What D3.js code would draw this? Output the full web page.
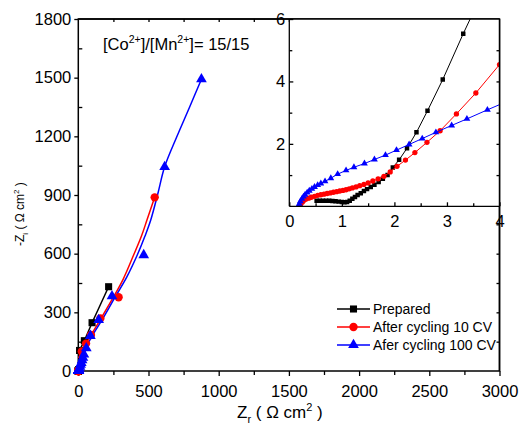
<!DOCTYPE html>
<html><head><meta charset="utf-8">
<script src="https://cdn.jsdelivr.net/npm/d3@7"></script>
<style>
body{margin:0;background:#fff;}
text{font-family:"Liberation Sans",Arial,sans-serif;fill:#000;}
</style>
</head><body>
<svg id="c" width="520" height="435"></svg>
<script>
// ---------- data ----------
const seriesNames = ["Prepared", "After cycling 10 CV", "Afer cycling 100 CV"];
const seriesColors = ["#000000", "#ff0000", "#0000ff"];

const preparedData = [[0.52,0.18],[0.58,0.18],[0.64,0.18],[0.70,0.18],[0.76,0.18],[0.82,0.17],[0.88,0.16],[0.94,0.15],[1.00,0.14],[1.05,0.13],[1.10,0.14],[1.15,0.18],[1.20,0.24],[1.25,0.30],[1.30,0.36],[1.36,0.42],[1.42,0.49],[1.48,0.55],[1.55,0.62],[1.62,0.69],[1.70,0.78],[1.78,0.88],[1.87,1.00],[1.97,1.24],[2.09,1.49],[2.24,1.86],[2.42,2.37],[2.63,3.06],[2.92,4.06],[3.31,5.53],[3.75,7.1],[9,105],[43,155],[98,247],[216,431]];

const cycled10Data = [[0.20,0.02],[0.22,0.08],[0.25,0.14],[0.28,0.19],[0.32,0.23],[0.37,0.26],[0.42,0.29],[0.48,0.32],[0.54,0.35],[0.60,0.37],[0.66,0.39],[0.72,0.41],[0.78,0.43],[0.84,0.45],[0.90,0.47],[0.96,0.49],[1.02,0.51],[1.08,0.53],[1.14,0.56],[1.20,0.59],[1.27,0.62],[1.34,0.66],[1.42,0.70],[1.50,0.75],[1.59,0.81],[1.69,0.88],[1.80,0.96],[1.92,1.10],[2.05,1.28],[2.21,1.48],[2.39,1.72],[2.62,2.05],[2.87,2.42],[3.18,2.96],[3.55,3.63],[4.0,4.54],[4.5,5.6],[25,100],[55,140],[90,184],[157,269],[287,377],[544,888]];

const cycled100Data = [[0.17,0.0],[0.19,0.08],[0.21,0.16],[0.24,0.24],[0.27,0.31],[0.30,0.37],[0.34,0.44],[0.38,0.50],[0.43,0.56],[0.48,0.62],[0.54,0.68],[0.60,0.73],[0.68,0.80],[0.79,0.90],[0.92,1.03],[1.08,1.15],[1.23,1.25],[1.43,1.37],[1.62,1.50],[1.83,1.64],[2.04,1.80],[2.28,1.98],[2.53,2.17],[2.79,2.37],[3.09,2.59],[3.38,2.80],[3.77,3.09],[4.2,3.4],[8,12],[12,22],[16,32],[21,42],[27,55],[33,68],[40,85],[57,117],[86,180],[145,261],[240,383],[466,593],[615,1044],[877,1492]];

// smooth fitted curves drawn in the main panel
const cycled10Fit = [[2,66],[30,110],[86,178],[157,263],[252,380],[320,470],[394,593],[450,690],[489,772],[544,888]];
const cycled100Fit = [[3,0],[15,40],[33,90],[98,178],[169,261],[264,380],[345,480],[420,593],[475,690],[516,772],[566,905],[615,1044],[700,1195],[790,1345],[877,1492]];

const mainXTicks = [0,500,1000,1500,2000,2500,3000];
const mainXMinor = [250,750,1250,1750,2250,2750];
const mainYTicks = [0,300,600,900,1200,1500,1800];
const mainYMinor = [150,450,750,1050,1350,1650];
const insetXTicks = [0,1,2,3,4];
const insetXMinor = [0.5,1.5,2.5,3.5];
const insetYTicks = [2,4,6];
const insetYMinor = [1,3,5];

// ---------- layout ----------
const svg = d3.select("#c");
const x = d3.scaleLinear().domain([0,3000]).range([78.3,499.5]);
const y = d3.scaleLinear().domain([0,1800]).range([371,19]);
const ix = d3.scaleLinear().domain([0,4]).range([289.3,499.5]);
const iy = d3.scaleLinear().domain([0,6]).range([206.3,19]);

const syms = [d3.symbolSquare, d3.symbolCircle, d3.symbolTriangle];
const allData = [preparedData, cycled10Data, cycled100Data];

function styleAxis(g, fs){
  g.select(".domain").remove();
  g.selectAll(".tick line").attr("stroke","#000").attr("stroke-width",1.3);
  g.selectAll(".tick text").attr("font-size",fs).attr("font-family","Liberation Sans, Arial, sans-serif").attr("fill","#000");
}

// ---------- main axes ----------
const gl = svg.append("g").attr("transform",`translate(${x(0)},0)`)
  .call(d3.axisLeft(y).tickValues(mainYTicks).tickSize(4).tickPadding(3).tickFormat(d3.format("d")));
styleAxis(gl, 16.5);
const glm = svg.append("g").attr("transform",`translate(${x(0)},0)`)
  .call(d3.axisLeft(y).tickValues(mainYMinor).tickSize(-4).tickFormat(""));
styleAxis(glm, 1);

const gb = svg.append("g").attr("transform",`translate(0,${y(0)})`)
  .call(d3.axisBottom(x).tickValues(mainXTicks).tickSize(5).tickPadding(9).tickFormat(d3.format("d")));
styleAxis(gb, 16.5);
const gbm = svg.append("g").attr("transform",`translate(0,${y(0)})`)
  .call(d3.axisBottom(x).tickValues(mainXMinor).tickSize(4).tickFormat(""));
styleAxis(gbm, 1);

const gr = svg.append("g").attr("transform",`translate(${x(3000)},0)`)
  .call(d3.axisRight(y).tickValues(mainYMinor.concat(mainYTicks.slice(1,-1))).tickSize(-3).tickFormat(""));
styleAxis(gr, 1);
const gt = svg.append("g").attr("transform",`translate(0,${y(1800)})`)
  .call(d3.axisTop(x).tickValues(mainXMinor.concat(mainXTicks.slice(1,-1))).tickSize(-3).tickFormat(""));
styleAxis(gt, 1);

// main frame
svg.append("rect").attr("x",x(0)).attr("y",y(1800)).attr("width",x(3000)-x(0)).attr("height",y(0)-y(1800))
  .attr("fill","none").attr("stroke","#000").attr("stroke-width",1.5);

// ---------- main series ----------
const lineMain = d3.line().x(d=>x(d[0])).y(d=>y(d[1]));
svg.append("path").datum(preparedData).attr("d",lineMain).attr("fill","none").attr("stroke",seriesColors[0]).attr("stroke-width",1.5);
svg.append("path").datum(cycled10Fit).attr("d",lineMain.curve(d3.curveCatmullRom)).attr("fill","none").attr("stroke",seriesColors[1]).attr("stroke-width",1.5);
svg.append("path").datum(cycled100Fit).attr("d",lineMain.curve(d3.curveCatmullRom)).attr("fill","none").attr("stroke",seriesColors[2]).attr("stroke-width",1.5);

const mainSizes = [50, 55, 50];
allData.forEach((data,i)=>{
  svg.append("g").selectAll("path").data(data).join("path")
    .attr("transform",d=>`translate(${x(d[0])},${y(d[1])})`)
    .attr("d",d3.symbol().type(syms[i]).size(mainSizes[i]))
    .attr("fill",seriesColors[i]);
});

// ---------- inset ----------
svg.append("rect").attr("x",ix(0)).attr("y",iy(6)).attr("width",ix(4)-ix(0)).attr("height",iy(0)-iy(6)).attr("fill","#fff");
svg.append("clipPath").attr("id","ic").append("rect")
  .attr("x",ix(0)).attr("y",iy(6)).attr("width",ix(4)-ix(0)).attr("height",iy(0)-iy(6));
const ig = svg.append("g").attr("clip-path","url(#ic)");
const lineIn = d3.line().x(d=>ix(d[0])).y(d=>iy(d[1]));
const insetSizes = [20, 22, 20];
allData.forEach((data,i)=>{
  const sub = data.filter(d=>d[0]<=6);
  ig.append("path").datum(sub).attr("d",lineIn).attr("fill","none").attr("stroke",seriesColors[i]).attr("stroke-width",1);
  ig.append("g").selectAll("path").data(sub).join("path")
    .attr("transform",d=>`translate(${ix(d[0])},${iy(d[1])})`)
    .attr("d",d3.symbol().type(syms[i]).size(insetSizes[i]))
    .attr("fill",seriesColors[i]);
});

const il = svg.append("g").attr("transform",`translate(${ix(0)},0)`)
  .call(d3.axisLeft(iy).tickValues(insetYTicks).tickSize(-4).tickPadding(4).tickFormat(d3.format("d")));
styleAxis(il, 16.5);
const ilm = svg.append("g").attr("transform",`translate(${ix(0)},0)`)
  .call(d3.axisLeft(iy).tickValues(insetYMinor).tickSize(-3).tickFormat(""));
styleAxis(ilm, 1);
const ib = svg.append("g").attr("transform",`translate(0,${iy(0)})`)
  .call(d3.axisBottom(ix).tickValues(insetXTicks).tickSize(-4).tickPadding(8.5).tickFormat(d3.format("d")));
styleAxis(ib, 16.5);
const ibm = svg.append("g").attr("transform",`translate(0,${iy(0)})`)
  .call(d3.axisBottom(ix).tickValues(insetXMinor).tickSize(-3).tickFormat(""));
styleAxis(ibm, 1);
const ir = svg.append("g").attr("transform",`translate(${ix(4)},0)`)
  .call(d3.axisRight(iy).tickValues([1,2,3,4,5]).tickSize(-3).tickFormat(""));
styleAxis(ir, 1);

svg.append("line").attr("x1",ix(0)).attr("x2",ix(0)).attr("y1",iy(6)).attr("y2",iy(0)).attr("stroke","#000").attr("stroke-width",1.3);
svg.append("line").attr("x1",ix(0)).attr("x2",ix(4)).attr("y1",iy(0)).attr("y2",iy(0)).attr("stroke","#000").attr("stroke-width",1.3);
svg.append("line").attr("x1",ix(4)).attr("x2",ix(4)).attr("y1",iy(6)).attr("y2",y(0)).attr("stroke","#000").attr("stroke-width",1.5);
svg.append("line").attr("x1",x(0)).attr("x2",x(3000)).attr("y1",y(1800)).attr("y2",y(1800)).attr("stroke","#000").attr("stroke-width",1.5);

// ---------- texts ----------
const ann = svg.append("text").attr("x",103).attr("y",50).attr("font-size",16.5);
ann.append("tspan").text("[Co");
ann.append("tspan").attr("dy",-7).attr("font-size",10.5).text("2+");
ann.append("tspan").attr("dy",7).text("]/[Mn");
ann.append("tspan").attr("dy",-7).attr("font-size",10.5).text("2+");
ann.append("tspan").attr("dy",7).text("]= 15/15");

const xl = svg.append("text").attr("x",237).attr("y",418).attr("font-size",17);
xl.append("tspan").text("Z");
xl.append("tspan").attr("dy",5).attr("font-size",11).text("r");
xl.append("tspan").attr("dy",-5).text(" ( Ω cm");
xl.append("tspan").attr("dy",-7).attr("font-size",11).text("2");
xl.append("tspan").attr("dy",7).text(" )");

const yl = svg.append("text").attr("transform","translate(24,246) rotate(-90)").attr("font-size",12);
yl.append("tspan").text("-Z");
yl.append("tspan").attr("dy",3.5).attr("font-size",8).text("i");
yl.append("tspan").attr("dy",-3.5).text(" ( Ω cm");
yl.append("tspan").attr("dy",-5).attr("font-size",8).text("2");
yl.append("tspan").attr("dy",5).text(" )");

// ---------- legend ----------
const legRows = [309, 327, 345];
const lg = svg.append("g");
seriesNames.forEach((name,i)=>{
  lg.append("line").attr("x1",337).attr("x2",370).attr("y1",legRows[i]).attr("y2",legRows[i])
    .attr("stroke",seriesColors[i]).attr("stroke-width",1.5);
  lg.append("path").attr("transform",`translate(353.5,${legRows[i]})`)
    .attr("d",d3.symbol().type(syms[i]).size(mainSizes[i])).attr("fill",seriesColors[i]);
  lg.append("text").attr("x",373).attr("y",legRows[i]+5).attr("font-size",14).text(name);
});
</script>
</body></html>
